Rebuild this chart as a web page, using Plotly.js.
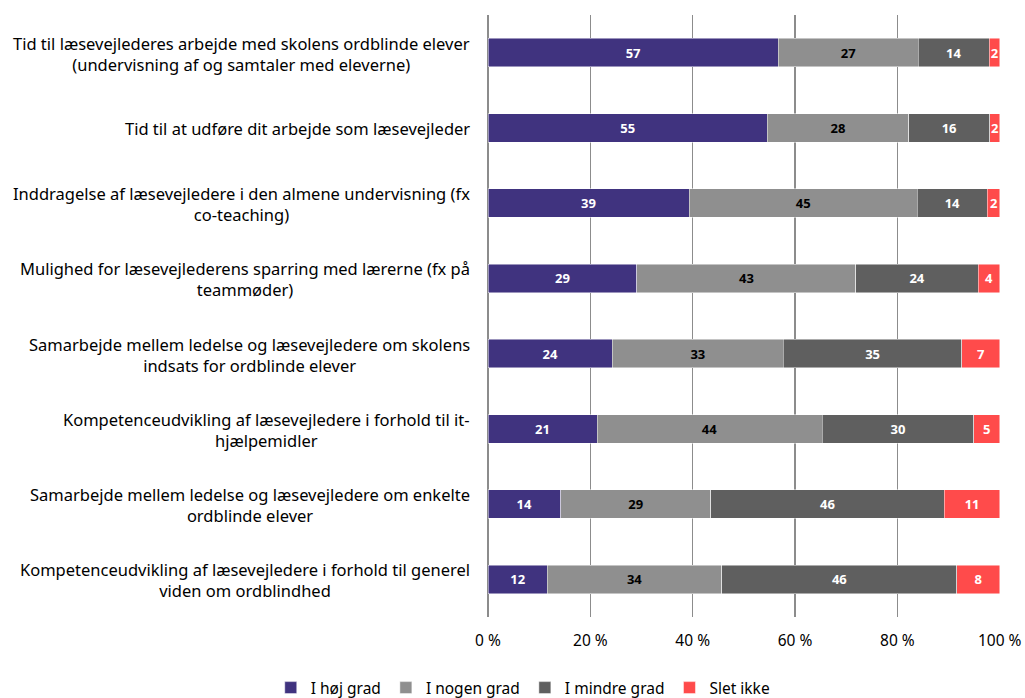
<!DOCTYPE html>
<html>
<head>
<meta charset="utf-8">
<script src="https://cdn.plot.ly/plotly-3.0.1.min.js"></script>
<style>html,body{margin:0;padding:0;background:#fff;}#chart{width:1025px;height:698px;}</style>
</head>
<body>
<div id="chart"></div>
<script>
var categories = [
  "Tid til læsevejlederes arbejde med skolens ordblinde elever<br>(undervisning af og samtaler med eleverne)",
  "Tid til at udføre dit arbejde som læsevejleder",
  "Inddragelse af læsevejledere i den almene undervisning (fx<br>co-teaching)",
  "Mulighed for læsevejlederens sparring med lærerne (fx på<br>teammøder)",
  "Samarbejde mellem ledelse og læsevejledere om skolens<br>indsats for ordblinde elever",
  "Kompetenceudvikling af læsevejledere i forhold til it-<br>hjælpemidler",
  "Samarbejde mellem ledelse og læsevejledere om enkelte<br>ordblinde elever",
  "Kompetenceudvikling af læsevejledere i forhold til generel<br>viden om ordblindhed"
];
var seriesNames = ["I høj grad", "I nogen grad", "I mindre grad", "Slet ikke"];
var hojGrad    = [56.7, 54.6, 39.3, 29.1, 24.3, 21.3, 14.2, 11.6];
var nogenGrad  = [27.4, 27.6, 44.6, 42.8, 33.4, 44.0, 29.3, 34.1];
var mindreGrad = [13.8, 15.8, 13.7, 23.9, 34.9, 29.6, 45.7, 45.9];
var sletIkke   = [2.1, 2.0, 2.4, 4.2, 7.4, 5.1, 10.8, 8.4];
var tickVals = [0, 20, 40, 60, 80, 100];
var tickText = ["0 %", "20 %", "40 %", "60 %", "80 %", "100 %"];

var seriesValues = [hojGrad, nogenGrad, mindreGrad, sletIkke];
var colors = ["#40337F", "#8F8F8F", "#5F5F5F", "#FF4B4B"];
var textColors = ["#ffffff", "#000000", "#ffffff", "#ffffff"];
var FONT = "'Noto Sans', 'Open Sans', sans-serif";

var traces = seriesValues.map(function (vals, i) {
  return {
    type: "bar",
    orientation: "h",
    name: seriesNames[i],
    x: vals,
    y: categories,
    marker: { color: colors[i], line: { color: "rgba(255,255,255,0.6)", width: 0.8 } },
    texttemplate: "%{x:.0f}",
    textposition: "inside",
    insidetextanchor: "middle",
    textangle: 0,
    constraintext: "none",
    cliponaxis: false,
    textfont: { family: FONT, size: 13, color: textColors[i], weight: "bold" },
    hoverinfo: "x+name"
  };
});

var annotations = categories.map(function (c) {
  return {
    xref: "paper", yref: "y", x: 0, y: c, xshift: -16, yshift: -1,
    xanchor: "right", yanchor: "middle", align: "center",
    text: c, showarrow: false,
    font: { family: FONT, size: 16.5, color: "#000000" }
  };
});

var layout = {
  width: 1025, height: 698,
  margin: { l: 488, r: 25, t: 15, b: 81, autoexpand: false },
  barmode: "stack",
  bargap: 0.62,
  paper_bgcolor: "#ffffff",
  plot_bgcolor: "#ffffff",
  font: { family: FONT, size: 15, color: "#000000" },
  xaxis: {
    range: [0, 100.05],
    tickvals: tickVals, ticktext: tickText,
    showgrid: true, gridcolor: "#8C8C8C", gridwidth: 1.5,
    zeroline: true, zerolinecolor: "#8C8C8C", zerolinewidth: 1.5,
    showline: false, ticks: "",
    ticklabelstandoff: 12,
    tickfont: { family: FONT, size: 15.5, color: "#000000" },
    automargin: false
  },
  yaxis: {
    autorange: "reversed",
    showticklabels: false, showgrid: false, zeroline: false, ticks: ""
  },
  showlegend: true,
  legend: {
    orientation: "h", xref: "container", yref: "paper",
    x: 0.51, xanchor: "center", y: -0.118, yanchor: "middle",
    font: { family: FONT, size: 15.5, color: "#000000" },
    traceorder: "normal", itemwidth: 30
  },
  annotations: annotations
};

Plotly.newPlot("chart", traces, layout, { displayModeBar: false, staticPlot: true });
</script>
</body>
</html>
